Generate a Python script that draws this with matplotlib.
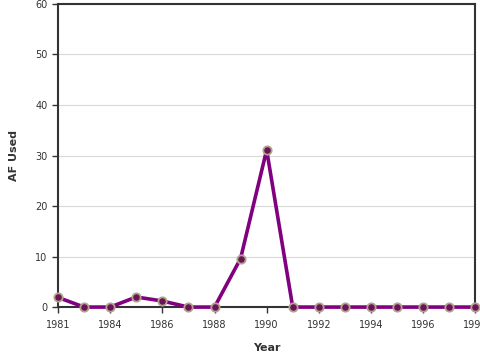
import matplotlib
matplotlib.use("Agg")
import matplotlib.pyplot as plt

# AF used per year
years = list(range(1982, 1999))
af_used = [1.9, 0, 0, 2.0, 1.2, 0, 0, 9.6, 31.1, 0, 0, 0, 0, 0, 0, 0, 0]

tick_years = [1982, 1984, 1986, 1988, 1990, 1992, 1994, 1996, 1998]
tick_labels = ["1981", "1984", "1986", "1988", "1990", "1992", "1994", "1996", "1998"]
y_ticks = [0, 10, 20, 30, 40, 50, 60]

fig = plt.figure(figsize=(4.8, 3.6), dpi=100)
ax = fig.add_axes([0.121, 0.147, 0.869, 0.842])

ax.plot(years, af_used, color="#800080", linewidth=2.6, zorder=3,
        marker="o", markersize=6, markerfacecolor="#6a1458",
        markeredgecolor="#b3a38c", markeredgewidth=1.3, clip_on=False)

ax.set_xlim(1982, 1998)
ax.set_ylim(0, 60)
ax.set_xticks(tick_years)
ax.set_xticklabels(tick_labels)
ax.set_yticks(y_ticks)

ax.grid(axis="y", color="#d9d9d9", linewidth=0.8)
ax.set_axisbelow(True)

for side in ["left", "right", "top", "bottom"]:
    ax.spines[side].set_color("#333333")
    ax.spines[side].set_linewidth(1.5)

ax.tick_params(axis="both", colors="#333333", labelsize=7, length=4, width=1)
ax.tick_params(axis="x", pad=5)

ax.set_xlabel("Year", fontsize=8, fontweight="bold", color="#333333", labelpad=10)
ax.set_ylabel("AF Used", fontsize=8, fontweight="bold", color="#333333", labelpad=12)

fig.savefig("out.png", dpi=100)
